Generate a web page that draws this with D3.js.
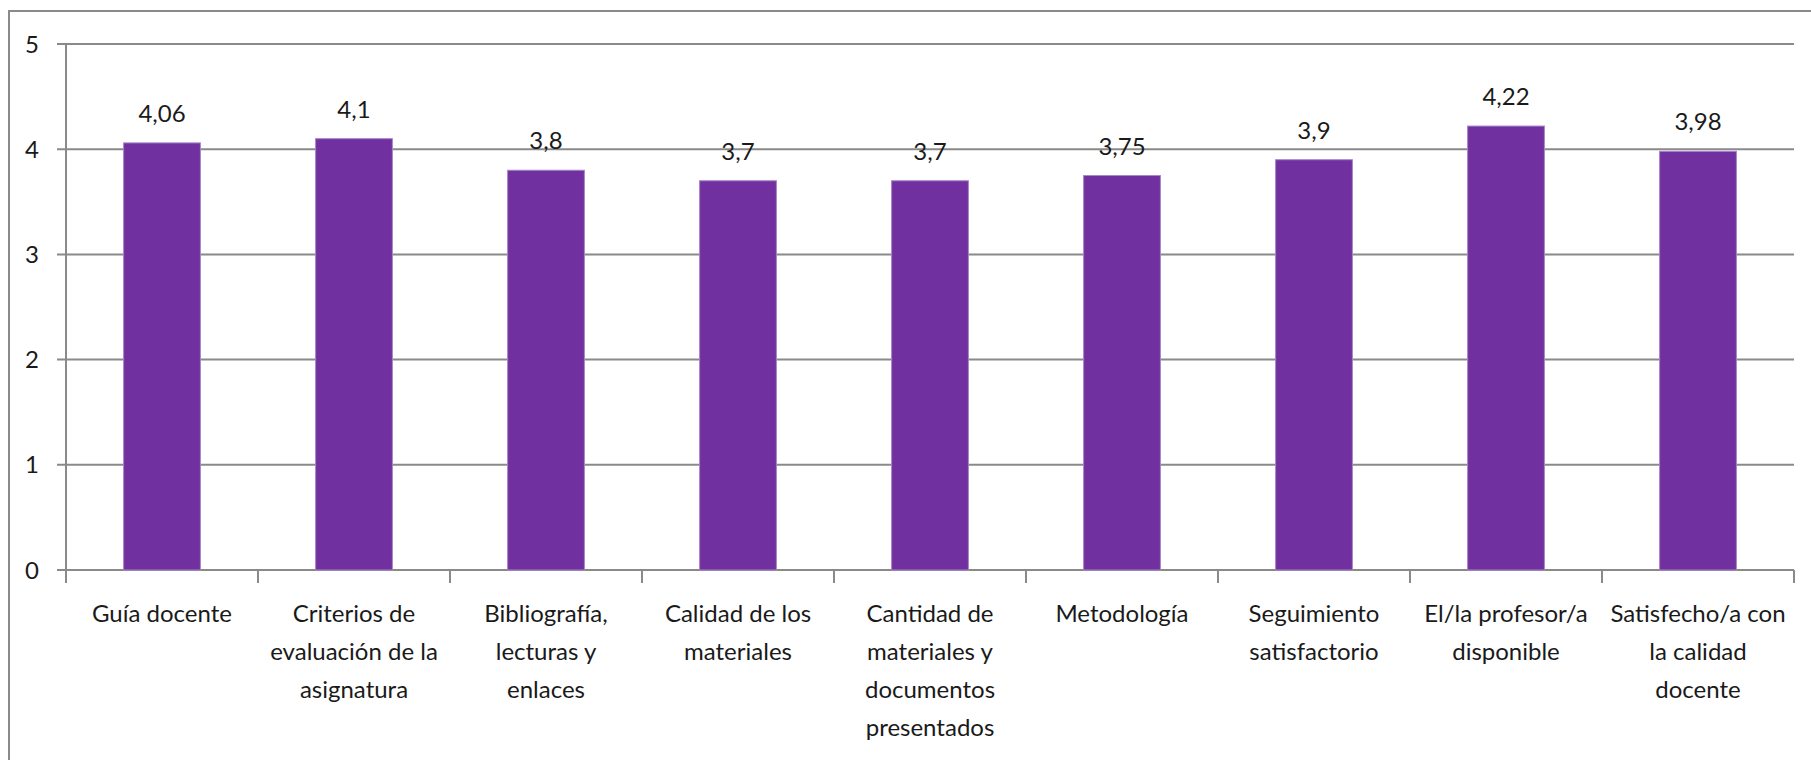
<!DOCTYPE html>
<html>
<head>
<meta charset="utf-8">
<script src="https://cdn.jsdelivr.net/npm/d3@7"></script>
<style>
  body { margin: 0; background: #fff; }
  text { font-family: Lato, "Open Sans", sans-serif; fill: #1a1a1a; }
</style>
</head>
<body>
<svg width="1811" height="760"></svg>
<script>
// Categories (line breaks follow the original wrapping)
const categories = [
    "Guía docente",
    "Criterios de\nevaluación de la\nasignatura",
    "Bibliografía,\nlecturas y\nenlaces",
    "Calidad de los\nmateriales",
    "Cantidad de\nmateriales y\ndocumentos\npresentados",
    "Metodología",
    "Seguimiento\nsatisfactorio",
    "El/la profesor/a\ndisponible",
    "Satisfecho/a con\nla calidad\ndocente"
];
const values = [4.06, 4.1, 3.8, 3.7, 3.7, 3.75, 3.9, 4.22, 3.98];
const valueLabels = ["4,06", "4,1", "3,8", "3,7", "3,7", "3,75", "3,9", "4,22", "3,98"];
const yTicks = [0, 1, 2, 3, 4, 5];

const svg = d3.select("svg");
const width = +svg.attr("width");
const height = +svg.attr("height");

// plot area
const plotLeft = 66, plotRight = 1794, plotTop = 44, plotBottom = 570;
const gridColor = "#8a8a8a";

// outer chart frame (only left and top edges are in view)
svg.append("rect")
    .attr("x", 9).attr("y", 11)
    .attr("width", width + 20).attr("height", height + 20)
    .attr("fill", "none")
    .attr("stroke", gridColor)
    .attr("stroke-width", 2);

const x = d3.scaleBand()
    .domain(d3.range(categories.length))
    .range([plotLeft, plotRight])
    .paddingInner(0.6)
    .paddingOuter(0.3);

const y = d3.scaleLinear()
    .domain([0, 5])
    .range([plotBottom, plotTop]);

// gridlines + y ticks
svg.append("g")
    .selectAll("line")
    .data(yTicks)
    .join("line")
    .attr("x1", plotLeft - 9)
    .attr("x2", plotRight)
    .attr("y1", d => y(d))
    .attr("y2", d => y(d))
    .attr("stroke", gridColor)
    .attr("stroke-width", 2);

svg.append("g")
    .selectAll("text")
    .data(yTicks)
    .join("text")
    .attr("x", 39)
    .attr("y", d => y(d))
    .attr("dy", "0.36em")
    .attr("text-anchor", "end")
    .style("font-size", "24px")
    .text(d => d);

// y axis line
svg.append("line")
    .attr("x1", plotLeft).attr("x2", plotLeft)
    .attr("y1", plotTop).attr("y2", plotBottom)
    .attr("stroke", gridColor)
    .attr("stroke-width", 2);

// category tick marks between bands
const bandStep = (plotRight - plotLeft) / categories.length;
svg.append("g")
    .selectAll("line")
    .data(d3.range(categories.length + 1))
    .join("line")
    .attr("x1", i => plotLeft + i * bandStep)
    .attr("x2", i => plotLeft + i * bandStep)
    .attr("y1", plotBottom)
    .attr("y2", plotBottom + 13)
    .attr("stroke", gridColor)
    .attr("stroke-width", 2);

// bars
svg.append("g")
    .selectAll("rect")
    .data(values)
    .join("rect")
    .attr("x", (d, i) => x(i))
    .attr("y", d => y(d))
    .attr("width", x.bandwidth())
    .attr("height", d => plotBottom - y(d))
    .attr("fill", "#7030A0")
    .attr("stroke", "#a884c8")
    .attr("stroke-width", 1);

// value labels
svg.append("g")
    .selectAll("text")
    .data(values)
    .join("text")
    .attr("x", (d, i) => x(i) + x.bandwidth() / 2)
    .attr("y", d => y(d) - 21)
    .attr("text-anchor", "middle")
    .style("font-size", "24px")
    .text((d, i) => valueLabels[i]);

// category labels
const catText = svg.append("g")
    .selectAll("text")
    .data(categories)
    .join("text")
    .attr("text-anchor", "middle")
    .style("font-size", "24px")
    .attr("transform", (d, i) => `translate(${x(i) + x.bandwidth() / 2},${plotBottom + 52})`);

catText.selectAll("tspan")
    .data(d => d.split("\n"))
    .join("tspan")
    .attr("x", 0)
    .attr("y", (d, i) => i * 38)
    .text(d => d);
</script>
</body>
</html>
